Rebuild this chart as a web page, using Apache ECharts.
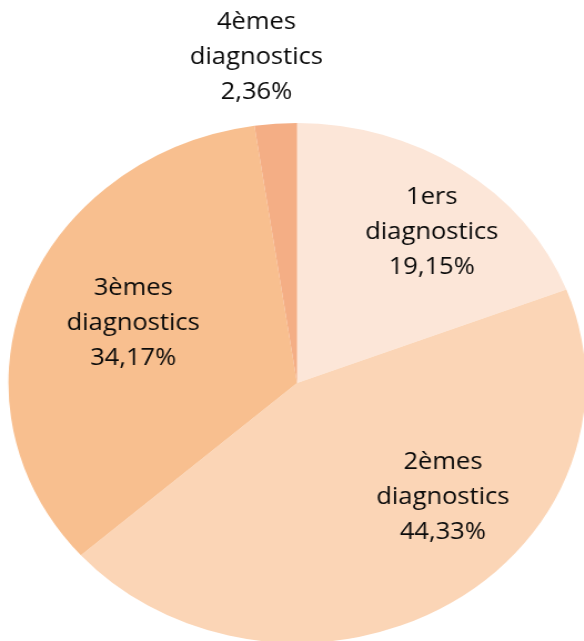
<!DOCTYPE html>
<html>
<head>
<meta charset="utf-8">
<script src="https://cdn.jsdelivr.net/npm/echarts@6/dist/echarts.min.js"></script>
<style>
    html, body {
        margin: 0;
        padding: 0;
        background: #fff;
        overflow: hidden;
    }
    /* the reference pie is an ellipse: draw a circle and stretch it sideways */
    #pie {
        position: absolute;
        left: 0;
        top: 0;
        width: 526px;
        height: 641px;
        transform: scaleX(1.11);
        transform-origin: 0 0;
    }
</style>
</head>
<body>
<div id="pie"></div>
<script>
    // données du graphique
    const categories = ['1ers diagnostics', '2èmes diagnostics', '3èmes diagnostics', '4èmes diagnostics']
    const values = [19.15, 44.33, 34.17, 2.36]
    const colors = ['#fce6d8', '#fbd5b6', '#f8bf8f', '#f4ae85']

    // label centres (chart px, before the horizontal stretch)
    const labelPos = [[389, 232], [399, 497], [120, 323], [231, 57]]

    let myChart = echarts.init(document.getElementById('pie'), null, { renderer: 'canvas' })
    myChart.setOption({
        animation: false,
        color: colors,
        series: [{
            type: 'pie',
            center: [267.6, 383],
            radius: 260,
            startAngle: 90,
            clockwise: true,
            avoidLabelOverlap: false,
            itemStyle: { borderWidth: 0 },
            emphasis: { scale: false },
            label: {
                show: true,
                position: 'inside',
                fontFamily: 'Open Sans',
                fontSize: 23,
                lineHeight: 35,
                color: '#0a0a0a',
                align: 'center',
                formatter: function (p) {
                    let parts = p.name.split(' ')
                    return parts[0] + '\n' + parts[1] + '\n' + p.value.toFixed(2).replace('.', ',') + '%'
                }
            },
            labelLine: { show: false },
            labelLayout: function (p) {
                let pos = labelPos[p.dataIndex]
                return { x: pos[0], y: pos[1], align: 'center', verticalAlign: 'middle' }
            },
            data: categories.map((name, i) => ({ name: name, value: values[i] }))
        }]
    })
</script>
</body>
</html>
